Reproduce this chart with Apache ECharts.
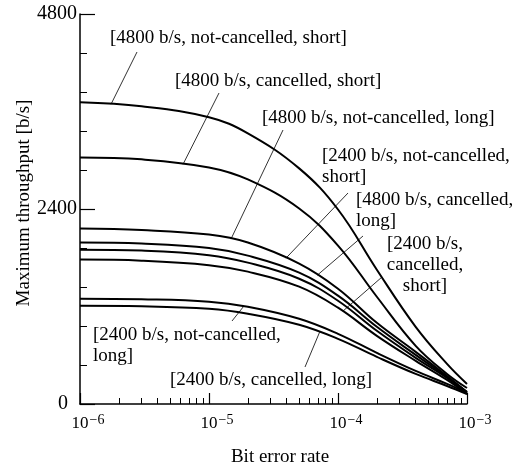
<!DOCTYPE html>
<html>
<head>
<meta charset="utf-8">
<script src="https://cdn.jsdelivr.net/npm/echarts@6/dist/echarts.min.js"></script>
<style>
  html, body { margin: 0; padding: 0; background: #fff; }
  #chart { width: 513px; height: 466px; }
</style>
</head>
<body>
<div id="chart"></div>
<script>
// bit error rate samples (x)
let ber = [1e-6, 3e-6, 1e-5, 2e-5, 5e-5, 1e-4, 2e-4, 4e-4, 7e-4, 1e-3];

// maximum throughput [b/s]
let nc4800Short = [3714, 3665, 3529, 3331, 2900, 2394, 1653, 950, 494, 247];
let c4800Short  = [3035, 3011, 2912, 2764, 2406, 1950, 1320, 716, 370, 197];
let nc4800Long  = [2159, 2141, 2085, 1987, 1728, 1419, 999, 642, 345, 148];
let nc2400Short = [1987, 1974, 1919, 1826, 1616, 1333, 950, 605, 333, 148];
let c4800Long   = [1900, 1888, 1832, 1740, 1542, 1271, 901, 568, 321, 136];
let c2400Short  = [1777, 1764, 1709, 1629, 1444, 1185, 839, 531, 296, 123];
let nc2400Long  = [1296, 1289, 1259, 1197, 1049, 864, 629, 407, 247, 136];
let c2400Long   = [1209, 1203, 1172, 1111, 975, 802, 580, 370, 222, 123];

let curves = [nc4800Short, c4800Short, nc4800Long, nc2400Short, c4800Long, c2400Short, nc2400Long, c2400Long];

let yTicks = [0, 2400, 4800];
let xMinorTicks = [2e-6,3e-6,4e-6,5e-6,6e-6,7e-6,8e-6,9e-6,
                   2e-5,3e-5,4e-5,5e-5,6e-5,7e-5,8e-5,9e-5,
                   2e-4,3e-4,4e-4,5e-4,6e-4,7e-4,8e-4,9e-4];

// label text, which curve the leader touches, where on x
let labels = [
  {text:'[4800 b/s, not-cancelled, short]', curve:0, at:1.74e-6, x:110, y:38, align:'left', from:[137,52]},
  {text:'[4800 b/s, cancelled, short]', curve:1, at:6.29e-6, x:175, y:81, align:'left', from:[219,93]},
  {text:'[4800 b/s, not-cancelled, long]', curve:2, at:1.48e-5, x:262, y:118, align:'left', from:[283,130]},
  {text:'[2400 b/s, not-cancelled,\nshort]', curve:2, at:3.95e-5, x:322, y:167, align:'left', from:[348,193]},
  {text:'[4800 b/s, cancelled,\nlong]', curve:2, at:6.9e-5, x:356, y:211, align:'left', from:[363,236]},
  {text:'[2400 b/s,\ncancelled,\nshort]', curve:5, at:1.09e-4, x:425, y:265, align:'center', from:[382,277]},
  {text:'[2400 b/s, not-cancelled,\nlong]', curve:6, at:1.86e-5, x:93, y:346, align:'left', from:[232,321]},
  {text:'[2400 b/s, cancelled, long]', curve:7, at:7.2e-5, x:170, y:380, align:'left', from:[305,367]}
];

let serif = 'Liberation Serif';

function valueAt(k, x){
  let arr = curves[k];
  for(let i = 0; i < ber.length - 1; i++){
    if(x >= ber[i] && x <= ber[i+1]){
      let t = (Math.log10(x) - Math.log10(ber[i])) / (Math.log10(ber[i+1]) - Math.log10(ber[i]));
      return arr[i] + t * (arr[i+1] - arr[i]);
    }
  }
  return arr[arr.length - 1];
}

let chart = echarts.init(document.getElementById('chart'));

chart.setOption({
  animation: false,
  backgroundColor: '#fff',
  grid: {left: 80, right: 46, top: 14, bottom: 62, outerBoundsMode: 'none'},
  xAxis: [
    {
      type: 'log',
      logBase: 10,
      min: 1e-6,
      max: 1e-3,
      name: 'Bit error rate',
      nameLocation: 'middle',
      nameGap: 44,
      nameTextStyle: {fontFamily: serif, fontSize: 19, color: '#000', padding: [0, 0, 0, 13]},
      axisLine: {lineStyle: {color: '#000', width: 1.5}},
      axisTick: {inside: true, length: 11, lineStyle: {color: '#000', width: 1.2}},
      splitLine: {show: false},
      axisLabel: {
        margin: 9,
        formatter: function(v){
          let e = Math.round(Math.log10(v));
          return '{h|\u2212' + (-e) + '}{b|10}{s|\u2212' + (-e) + '}';
        },
        rich: {
          b: {fontFamily: serif, fontSize: 17, color: '#000'},
          s: {fontFamily: serif, fontSize: 14, color: '#000', verticalAlign: 'top', padding: [0, 0, 7, 1]},
          h: {fontFamily: serif, fontSize: 14, color: 'transparent', padding: [0, 1, 0, 0]}
        }
      }
    },
    {
      type: 'log',
      logBase: 10,
      min: 1e-6,
      max: 1e-3,
      position: 'bottom',
      axisLine: {show: false},
      axisTick: {inside: true, length: 6, customValues: xMinorTicks, lineStyle: {color: '#000', width: 1}},
      axisLabel: {show: false},
      splitLine: {show: false}
    }
  ],
  yAxis: {
    type: 'value',
    min: 0,
    max: 4800,
    interval: 2400,
    name: 'Maximum throughput [b/s]',
    nameLocation: 'middle',
    nameGap: 46,
    nameMoveOverlap: false,
    nameTextStyle: {fontFamily: serif, fontSize: 19, color: '#000', padding: [0, 0, 0, 12]},
    axisLine: {show: true, lineStyle: {color: '#000', width: 1.5}},
    axisTick: {show: true, inside: true, length: 15, lineStyle: {color: '#000', width: 1.2}},
    minorTick: {show: true, splitNumber: 5, length: 7, lineStyle: {color: '#000', width: 1}},
    splitLine: {show: false},
    minorSplitLine: {show: false},
    axisLabel: {
      margin: 3,
      fontFamily: serif,
      fontSize: 20,
      color: '#000',
      formatter: function(v){
        if(yTicks.indexOf(v) < 0) return '';
        return v === 0 ? '{z|0}' : String(v);
      },
      rich: {z: {fontFamily: serif, fontSize: 20, color: '#000', padding: [0, 9, 0, 0]}}
    }
  },
  series: curves.map(function(c){
    return {
      type: 'line',
      xAxisIndex: 0,
      data: ber.map(function(x, i){ return [x, c[i]]; }),
      smooth: 0.4,
      symbol: 'none',
      lineStyle: {color: '#000', width: 2},
      silent: true
    };
  })
});

// leader lines and label texts
let g = [];
labels.forEach(function(l){
  let p = chart.convertToPixel({xAxisIndex: 0, yAxisIndex: 0}, [l.at, valueAt(l.curve, l.at)]);
  g.push({
    type: 'line',
    shape: {x1: l.from[0], y1: l.from[1], x2: p[0], y2: p[1]},
    style: {stroke: '#333', lineWidth: 1}
  });
  g.push({
    type: 'text',
    x: l.x,
    y: l.y,
    style: {
      text: l.text,
      fontFamily: serif,
      fontSize: 19,
      lineHeight: 21,
      fill: '#000',
      align: l.align,
      verticalAlign: 'middle'
    }
  });
});
chart.setOption({graphic: g});
</script>
</body>
</html>
